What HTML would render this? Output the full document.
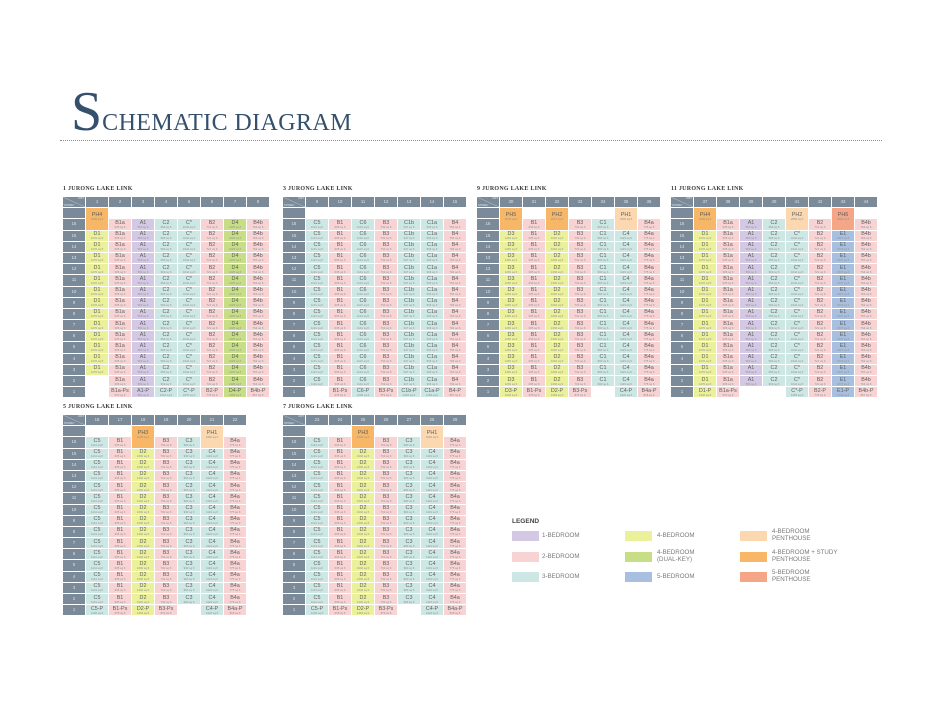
<!DOCTYPE html>
<html><head><meta charset="utf-8">
<style>
body{margin:0;width:943px;height:717px;background:#fff;position:relative;overflow:hidden;font-family:"Liberation Sans",sans-serif}
.ti{position:absolute;left:71px;top:84px;color:#35506c;font-family:"Liberation Serif",serif;white-space:nowrap}
.ti .S{font-size:56px;line-height:56px}
.ti .R{font-size:24px;letter-spacing:.4px}
.dl{position:absolute;left:60px;top:140px;width:822px;border-top:1px dotted #8c8c8c}
.tt{position:absolute;font:bold 6px/7px "Liberation Serif",serif;color:#3a3a3a;letter-spacing:.25px;white-space:nowrap}
.T{position:absolute;display:grid;grid-auto-rows:10.2px;gap:1px;background:#fff}
.c8{grid-template-columns:repeat(9,22px)}
.c7{grid-template-columns:repeat(8,22px)}
.T>b{display:block;font-weight:normal;text-align:center;font-size:5.4px;line-height:6px;color:#5f5f5f;overflow:hidden;padding-top:.5px;box-sizing:border-box;white-space:nowrap}
.T>b i{display:block;font-style:normal;font-size:2.8px;line-height:3px;color:#8f8f8f}
.T>b.h,.T>b.l{background:#7b8a98;color:#dfe5ea;font-size:4.2px;line-height:10px;padding:0}
.T>b.h0{background:linear-gradient(to top right,#7b8a98 48%,#c9d1d8 50%,#7b8a98 52%);position:relative;padding:0}
.h0 span{position:absolute;font-size:2.6px;line-height:3px;color:#e3e8ec}
.p{background:#f7d3d4}.t{background:#cde7e5}.u{background:#d4c9e5}.y{background:#ebf09b}.n{background:#c8de86}.e{background:#a9bfe0}.k{background:#fcd8b0}.o{background:#f7b767}.s{background:#f4a687}
.T>b.x{grid-row:span 2;padding-top:4px}
.lg{position:absolute;font-size:6.2px;color:#7a7a7a;line-height:6.5px;white-space:nowrap}
.sw{position:absolute;width:27px;height:10px}
</style></head><body>
<div class="ti"><span class="S">S</span><span class="R">CHEMATIC DIAGRAM</span></div>
<div class="dl"></div>

<div class="tt" style="left:63px;top:186px">1 JURONG LAKE LINK</div>
<div class="T c8" style="left:63px;top:197px">
<b class="h0"><span style="right:1px;top:0">UNIT</span><span style="left:1px;bottom:0">STOREY</span></b><b class="h">1</b><b class="h">2</b><b class="h">3</b><b class="h">4</b><b class="h">5</b><b class="h">6</b><b class="h">7</b><b class="h">8</b>
<b class="l"></b><b class="o x">PH4<i>2229 sq ft</i></b><b></b><b></b><b></b><b></b><b></b><b></b><b></b>
<b class="l">16</b><b class="p">B1a<i>635 sq ft</i></b><b class="u">A1<i>560 sq ft</i></b><b class="t">C2<i>969 sq ft</i></b><b class="t">C*<i>1044 sq ft</i></b><b class="p">B2<i>721 sq ft</i></b><b class="n">D4<i>1425 sq ft</i></b><b class="p">B4b<i>764 sq ft</i></b>
<b class="l">15</b><b class="y">D1<i>1270 sq ft</i></b><b class="p">B1a<i>635 sq ft</i></b><b class="u">A1<i>560 sq ft</i></b><b class="t">C2<i>969 sq ft</i></b><b class="t">C*<i>1044 sq ft</i></b><b class="p">B2<i>721 sq ft</i></b><b class="n">D4<i>1425 sq ft</i></b><b class="p">B4b<i>764 sq ft</i></b>
<b class="l">14</b><b class="y">D1<i>1270 sq ft</i></b><b class="p">B1a<i>635 sq ft</i></b><b class="u">A1<i>560 sq ft</i></b><b class="t">C2<i>969 sq ft</i></b><b class="t">C*<i>1044 sq ft</i></b><b class="p">B2<i>721 sq ft</i></b><b class="n">D4<i>1425 sq ft</i></b><b class="p">B4b<i>764 sq ft</i></b>
<b class="l">13</b><b class="y">D1<i>1270 sq ft</i></b><b class="p">B1a<i>635 sq ft</i></b><b class="u">A1<i>560 sq ft</i></b><b class="t">C2<i>969 sq ft</i></b><b class="t">C*<i>1044 sq ft</i></b><b class="p">B2<i>721 sq ft</i></b><b class="n">D4<i>1425 sq ft</i></b><b class="p">B4b<i>764 sq ft</i></b>
<b class="l">12</b><b class="y">D1<i>1270 sq ft</i></b><b class="p">B1a<i>635 sq ft</i></b><b class="u">A1<i>560 sq ft</i></b><b class="t">C2<i>969 sq ft</i></b><b class="t">C*<i>1044 sq ft</i></b><b class="p">B2<i>721 sq ft</i></b><b class="n">D4<i>1425 sq ft</i></b><b class="p">B4b<i>764 sq ft</i></b>
<b class="l">11</b><b class="y">D1<i>1270 sq ft</i></b><b class="p">B1a<i>635 sq ft</i></b><b class="u">A1<i>560 sq ft</i></b><b class="t">C2<i>969 sq ft</i></b><b class="t">C*<i>1044 sq ft</i></b><b class="p">B2<i>721 sq ft</i></b><b class="n">D4<i>1425 sq ft</i></b><b class="p">B4b<i>764 sq ft</i></b>
<b class="l">10</b><b class="y">D1<i>1270 sq ft</i></b><b class="p">B1a<i>635 sq ft</i></b><b class="u">A1<i>560 sq ft</i></b><b class="t">C2<i>969 sq ft</i></b><b class="t">C*<i>1044 sq ft</i></b><b class="p">B2<i>721 sq ft</i></b><b class="n">D4<i>1425 sq ft</i></b><b class="p">B4b<i>764 sq ft</i></b>
<b class="l">9</b><b class="y">D1<i>1270 sq ft</i></b><b class="p">B1a<i>635 sq ft</i></b><b class="u">A1<i>560 sq ft</i></b><b class="t">C2<i>969 sq ft</i></b><b class="t">C*<i>1044 sq ft</i></b><b class="p">B2<i>721 sq ft</i></b><b class="n">D4<i>1425 sq ft</i></b><b class="p">B4b<i>764 sq ft</i></b>
<b class="l">8</b><b class="y">D1<i>1270 sq ft</i></b><b class="p">B1a<i>635 sq ft</i></b><b class="u">A1<i>560 sq ft</i></b><b class="t">C2<i>969 sq ft</i></b><b class="t">C*<i>1044 sq ft</i></b><b class="p">B2<i>721 sq ft</i></b><b class="n">D4<i>1425 sq ft</i></b><b class="p">B4b<i>764 sq ft</i></b>
<b class="l">7</b><b class="y">D1<i>1270 sq ft</i></b><b class="p">B1a<i>635 sq ft</i></b><b class="u">A1<i>560 sq ft</i></b><b class="t">C2<i>969 sq ft</i></b><b class="t">C*<i>1044 sq ft</i></b><b class="p">B2<i>721 sq ft</i></b><b class="n">D4<i>1425 sq ft</i></b><b class="p">B4b<i>764 sq ft</i></b>
<b class="l">6</b><b class="y">D1<i>1270 sq ft</i></b><b class="p">B1a<i>635 sq ft</i></b><b class="u">A1<i>560 sq ft</i></b><b class="t">C2<i>969 sq ft</i></b><b class="t">C*<i>1044 sq ft</i></b><b class="p">B2<i>721 sq ft</i></b><b class="n">D4<i>1425 sq ft</i></b><b class="p">B4b<i>764 sq ft</i></b>
<b class="l">5</b><b class="y">D1<i>1270 sq ft</i></b><b class="p">B1a<i>635 sq ft</i></b><b class="u">A1<i>560 sq ft</i></b><b class="t">C2<i>969 sq ft</i></b><b class="t">C*<i>1044 sq ft</i></b><b class="p">B2<i>721 sq ft</i></b><b class="n">D4<i>1425 sq ft</i></b><b class="p">B4b<i>764 sq ft</i></b>
<b class="l">4</b><b class="y">D1<i>1270 sq ft</i></b><b class="p">B1a<i>635 sq ft</i></b><b class="u">A1<i>560 sq ft</i></b><b class="t">C2<i>969 sq ft</i></b><b class="t">C*<i>1044 sq ft</i></b><b class="p">B2<i>721 sq ft</i></b><b class="n">D4<i>1425 sq ft</i></b><b class="p">B4b<i>764 sq ft</i></b>
<b class="l">3</b><b class="y">D1<i>1270 sq ft</i></b><b class="p">B1a<i>635 sq ft</i></b><b class="u">A1<i>560 sq ft</i></b><b class="t">C2<i>969 sq ft</i></b><b class="t">C*<i>1044 sq ft</i></b><b class="p">B2<i>721 sq ft</i></b><b class="n">D4<i>1425 sq ft</i></b><b class="p">B4b<i>764 sq ft</i></b>
<b class="l">2</b><b></b><b class="p">B1a<i>635 sq ft</i></b><b class="u">A1<i>560 sq ft</i></b><b class="t">C2<i>969 sq ft</i></b><b class="t">C*<i>1044 sq ft</i></b><b class="p">B2<i>721 sq ft</i></b><b class="n">D4<i>1425 sq ft</i></b><b class="p">B4b<i>764 sq ft</i></b>
<b class="l">1</b><b></b><b class="p">B1a-Ps<i>670 sq ft</i></b><b class="u">A1-P<i>581 sq ft</i></b><b class="t">C2-P<i>1012 sq ft</i></b><b class="t">C*-P<i>1076 sq ft</i></b><b class="p">B2-P<i>775 sq ft</i></b><b class="n">D4-P<i>1469 sq ft</i></b><b class="p">B4b-P<i>807 sq ft</i></b>
</div>

<div class="tt" style="left:283px;top:186px">3 JURONG LAKE LINK</div>
<div class="T c7" style="left:283px;top:197px">
<b class="h0"><span style="right:1px;top:0">UNIT</span><span style="left:1px;bottom:0">STOREY</span></b><b class="h">9</b><b class="h">10</b><b class="h">11</b><b class="h">12</b><b class="h">13</b><b class="h">14</b><b class="h">15</b>
<b class="l"></b><b></b><b></b><b></b><b></b><b></b><b></b><b></b>
<b class="l">16</b><b class="t">C5<i>1141 sq ft</i></b><b class="p">B1<i>635 sq ft</i></b><b class="t">C6<i>1141 sq ft</i></b><b class="p">B3<i>732 sq ft</i></b><b class="t">C1b<i>947 sq ft</i></b><b class="t">C1a<i>936 sq ft</i></b><b class="p">B4<i>764 sq ft</i></b>
<b class="l">15</b><b class="t">C5<i>1141 sq ft</i></b><b class="p">B1<i>635 sq ft</i></b><b class="t">C6<i>1141 sq ft</i></b><b class="p">B3<i>732 sq ft</i></b><b class="t">C1b<i>947 sq ft</i></b><b class="t">C1a<i>936 sq ft</i></b><b class="p">B4<i>764 sq ft</i></b>
<b class="l">14</b><b class="t">C5<i>1141 sq ft</i></b><b class="p">B1<i>635 sq ft</i></b><b class="t">C6<i>1141 sq ft</i></b><b class="p">B3<i>732 sq ft</i></b><b class="t">C1b<i>947 sq ft</i></b><b class="t">C1a<i>936 sq ft</i></b><b class="p">B4<i>764 sq ft</i></b>
<b class="l">13</b><b class="t">C5<i>1141 sq ft</i></b><b class="p">B1<i>635 sq ft</i></b><b class="t">C6<i>1141 sq ft</i></b><b class="p">B3<i>732 sq ft</i></b><b class="t">C1b<i>947 sq ft</i></b><b class="t">C1a<i>936 sq ft</i></b><b class="p">B4<i>764 sq ft</i></b>
<b class="l">12</b><b class="t">C5<i>1141 sq ft</i></b><b class="p">B1<i>635 sq ft</i></b><b class="t">C6<i>1141 sq ft</i></b><b class="p">B3<i>732 sq ft</i></b><b class="t">C1b<i>947 sq ft</i></b><b class="t">C1a<i>936 sq ft</i></b><b class="p">B4<i>764 sq ft</i></b>
<b class="l">11</b><b class="t">C5<i>1141 sq ft</i></b><b class="p">B1<i>635 sq ft</i></b><b class="t">C6<i>1141 sq ft</i></b><b class="p">B3<i>732 sq ft</i></b><b class="t">C1b<i>947 sq ft</i></b><b class="t">C1a<i>936 sq ft</i></b><b class="p">B4<i>764 sq ft</i></b>
<b class="l">10</b><b class="t">C5<i>1141 sq ft</i></b><b class="p">B1<i>635 sq ft</i></b><b class="t">C6<i>1141 sq ft</i></b><b class="p">B3<i>732 sq ft</i></b><b class="t">C1b<i>947 sq ft</i></b><b class="t">C1a<i>936 sq ft</i></b><b class="p">B4<i>764 sq ft</i></b>
<b class="l">9</b><b class="t">C5<i>1141 sq ft</i></b><b class="p">B1<i>635 sq ft</i></b><b class="t">C6<i>1141 sq ft</i></b><b class="p">B3<i>732 sq ft</i></b><b class="t">C1b<i>947 sq ft</i></b><b class="t">C1a<i>936 sq ft</i></b><b class="p">B4<i>764 sq ft</i></b>
<b class="l">8</b><b class="t">C5<i>1141 sq ft</i></b><b class="p">B1<i>635 sq ft</i></b><b class="t">C6<i>1141 sq ft</i></b><b class="p">B3<i>732 sq ft</i></b><b class="t">C1b<i>947 sq ft</i></b><b class="t">C1a<i>936 sq ft</i></b><b class="p">B4<i>764 sq ft</i></b>
<b class="l">7</b><b class="t">C5<i>1141 sq ft</i></b><b class="p">B1<i>635 sq ft</i></b><b class="t">C6<i>1141 sq ft</i></b><b class="p">B3<i>732 sq ft</i></b><b class="t">C1b<i>947 sq ft</i></b><b class="t">C1a<i>936 sq ft</i></b><b class="p">B4<i>764 sq ft</i></b>
<b class="l">6</b><b class="t">C5<i>1141 sq ft</i></b><b class="p">B1<i>635 sq ft</i></b><b class="t">C6<i>1141 sq ft</i></b><b class="p">B3<i>732 sq ft</i></b><b class="t">C1b<i>947 sq ft</i></b><b class="t">C1a<i>936 sq ft</i></b><b class="p">B4<i>764 sq ft</i></b>
<b class="l">5</b><b class="t">C5<i>1141 sq ft</i></b><b class="p">B1<i>635 sq ft</i></b><b class="t">C6<i>1141 sq ft</i></b><b class="p">B3<i>732 sq ft</i></b><b class="t">C1b<i>947 sq ft</i></b><b class="t">C1a<i>936 sq ft</i></b><b class="p">B4<i>764 sq ft</i></b>
<b class="l">4</b><b class="t">C5<i>1141 sq ft</i></b><b class="p">B1<i>635 sq ft</i></b><b class="t">C6<i>1141 sq ft</i></b><b class="p">B3<i>732 sq ft</i></b><b class="t">C1b<i>947 sq ft</i></b><b class="t">C1a<i>936 sq ft</i></b><b class="p">B4<i>764 sq ft</i></b>
<b class="l">3</b><b class="t">C5<i>1141 sq ft</i></b><b class="p">B1<i>635 sq ft</i></b><b class="t">C6<i>1141 sq ft</i></b><b class="p">B3<i>732 sq ft</i></b><b class="t">C1b<i>947 sq ft</i></b><b class="t">C1a<i>936 sq ft</i></b><b class="p">B4<i>764 sq ft</i></b>
<b class="l">2</b><b class="t">C5<i>1141 sq ft</i></b><b class="p">B1<i>635 sq ft</i></b><b class="t">C6<i>1141 sq ft</i></b><b class="p">B3<i>732 sq ft</i></b><b class="t">C1b<i>947 sq ft</i></b><b class="t">C1a<i>936 sq ft</i></b><b class="p">B4<i>764 sq ft</i></b>
<b class="l">1</b><b></b><b class="p">B1-Ps<i>678 sq ft</i></b><b class="t">C6-P<i>1206 sq ft</i></b><b class="p">B3-Ps<i>872 sq ft</i></b><b class="t">C1b-P<i>1216 sq ft</i></b><b class="t">C1a-P<i>1184 sq ft</i></b><b class="p">B4-P<i>807 sq ft</i></b>
</div>

<div class="tt" style="left:477px;top:186px">9 JURONG LAKE LINK</div>
<div class="T c7" style="left:477px;top:197px">
<b class="h0"><span style="right:1px;top:0">UNIT</span><span style="left:1px;bottom:0">STOREY</span></b><b class="h">30</b><b class="h">31</b><b class="h">32</b><b class="h">33</b><b class="h">34</b><b class="h">35</b><b class="h">36</b>
<b class="l"></b><b class="o x">PH5<i>2239 sq ft</i></b><b></b><b class="o x">PH2<i>2217 sq ft</i></b><b></b><b></b><b class="k x">PH1<i>1991 sq ft</i></b><b></b>
<b class="l">16</b><b class="p">B1<i>635 sq ft</i></b><b class="p">B3<i>732 sq ft</i></b><b class="t">C1<i>990 sq ft</i></b><b class="p">B4a<i>775 sq ft</i></b>
<b class="l">15</b><b class="y">D3<i>1281 sq ft</i></b><b class="p">B1<i>635 sq ft</i></b><b class="y">D2<i>1302 sq ft</i></b><b class="p">B3<i>732 sq ft</i></b><b class="t">C1<i>990 sq ft</i></b><b class="t">C4<i>1119 sq ft</i></b><b class="p">B4a<i>775 sq ft</i></b>
<b class="l">14</b><b class="y">D3<i>1281 sq ft</i></b><b class="p">B1<i>635 sq ft</i></b><b class="y">D2<i>1302 sq ft</i></b><b class="p">B3<i>732 sq ft</i></b><b class="t">C1<i>990 sq ft</i></b><b class="t">C4<i>1119 sq ft</i></b><b class="p">B4a<i>775 sq ft</i></b>
<b class="l">13</b><b class="y">D3<i>1281 sq ft</i></b><b class="p">B1<i>635 sq ft</i></b><b class="y">D2<i>1302 sq ft</i></b><b class="p">B3<i>732 sq ft</i></b><b class="t">C1<i>990 sq ft</i></b><b class="t">C4<i>1119 sq ft</i></b><b class="p">B4a<i>775 sq ft</i></b>
<b class="l">12</b><b class="y">D3<i>1281 sq ft</i></b><b class="p">B1<i>635 sq ft</i></b><b class="y">D2<i>1302 sq ft</i></b><b class="p">B3<i>732 sq ft</i></b><b class="t">C1<i>990 sq ft</i></b><b class="t">C4<i>1119 sq ft</i></b><b class="p">B4a<i>775 sq ft</i></b>
<b class="l">11</b><b class="y">D3<i>1281 sq ft</i></b><b class="p">B1<i>635 sq ft</i></b><b class="y">D2<i>1302 sq ft</i></b><b class="p">B3<i>732 sq ft</i></b><b class="t">C1<i>990 sq ft</i></b><b class="t">C4<i>1119 sq ft</i></b><b class="p">B4a<i>775 sq ft</i></b>
<b class="l">10</b><b class="y">D3<i>1281 sq ft</i></b><b class="p">B1<i>635 sq ft</i></b><b class="y">D2<i>1302 sq ft</i></b><b class="p">B3<i>732 sq ft</i></b><b class="t">C1<i>990 sq ft</i></b><b class="t">C4<i>1119 sq ft</i></b><b class="p">B4a<i>775 sq ft</i></b>
<b class="l">9</b><b class="y">D3<i>1281 sq ft</i></b><b class="p">B1<i>635 sq ft</i></b><b class="y">D2<i>1302 sq ft</i></b><b class="p">B3<i>732 sq ft</i></b><b class="t">C1<i>990 sq ft</i></b><b class="t">C4<i>1119 sq ft</i></b><b class="p">B4a<i>775 sq ft</i></b>
<b class="l">8</b><b class="y">D3<i>1281 sq ft</i></b><b class="p">B1<i>635 sq ft</i></b><b class="y">D2<i>1302 sq ft</i></b><b class="p">B3<i>732 sq ft</i></b><b class="t">C1<i>990 sq ft</i></b><b class="t">C4<i>1119 sq ft</i></b><b class="p">B4a<i>775 sq ft</i></b>
<b class="l">7</b><b class="y">D3<i>1281 sq ft</i></b><b class="p">B1<i>635 sq ft</i></b><b class="y">D2<i>1302 sq ft</i></b><b class="p">B3<i>732 sq ft</i></b><b class="t">C1<i>990 sq ft</i></b><b class="t">C4<i>1119 sq ft</i></b><b class="p">B4a<i>775 sq ft</i></b>
<b class="l">6</b><b class="y">D3<i>1281 sq ft</i></b><b class="p">B1<i>635 sq ft</i></b><b class="y">D2<i>1302 sq ft</i></b><b class="p">B3<i>732 sq ft</i></b><b class="t">C1<i>990 sq ft</i></b><b class="t">C4<i>1119 sq ft</i></b><b class="p">B4a<i>775 sq ft</i></b>
<b class="l">5</b><b class="y">D3<i>1281 sq ft</i></b><b class="p">B1<i>635 sq ft</i></b><b class="y">D2<i>1302 sq ft</i></b><b class="p">B3<i>732 sq ft</i></b><b class="t">C1<i>990 sq ft</i></b><b class="t">C4<i>1119 sq ft</i></b><b class="p">B4a<i>775 sq ft</i></b>
<b class="l">4</b><b class="y">D3<i>1281 sq ft</i></b><b class="p">B1<i>635 sq ft</i></b><b class="y">D2<i>1302 sq ft</i></b><b class="p">B3<i>732 sq ft</i></b><b class="t">C1<i>990 sq ft</i></b><b class="t">C4<i>1119 sq ft</i></b><b class="p">B4a<i>775 sq ft</i></b>
<b class="l">3</b><b class="y">D3<i>1281 sq ft</i></b><b class="p">B1<i>635 sq ft</i></b><b class="y">D2<i>1302 sq ft</i></b><b class="p">B3<i>732 sq ft</i></b><b class="t">C1<i>990 sq ft</i></b><b class="t">C4<i>1119 sq ft</i></b><b class="p">B4a<i>775 sq ft</i></b>
<b class="l">2</b><b class="y">D3<i>1281 sq ft</i></b><b class="p">B1<i>635 sq ft</i></b><b class="y">D2<i>1302 sq ft</i></b><b class="p">B3<i>732 sq ft</i></b><b class="t">C1<i>990 sq ft</i></b><b class="t">C4<i>1119 sq ft</i></b><b class="p">B4a<i>775 sq ft</i></b>
<b class="l">1</b><b class="y">D3-P<i>1442 sq ft</i></b><b class="p">B1-Ps<i>678 sq ft</i></b><b class="y">D2-P<i>1464 sq ft</i></b><b class="p">B3-Ps<i>872 sq ft</i></b><b></b><b class="t">C4-P<i>1324 sq ft</i></b><b class="p">B4a-P<i>818 sq ft</i></b>
</div>

<div class="tt" style="left:671px;top:186px">11 JURONG LAKE LINK</div>
<div class="T c8" style="left:671px;top:197px">
<b class="h0"><span style="right:1px;top:0">UNIT</span><span style="left:1px;bottom:0">STOREY</span></b><b class="h">37</b><b class="h">38</b><b class="h">39</b><b class="h">40</b><b class="h">41</b><b class="h">42</b><b class="h">43</b><b class="h">44</b>
<b class="l"></b><b class="o x">PH4<i>2229 sq ft</i></b><b></b><b></b><b></b><b class="k x">PH2<i>2056 sq ft</i></b><b></b><b class="s x">PH6<i>2669 sq ft</i></b><b></b>
<b class="l">16</b><b class="p">B1a<i>635 sq ft</i></b><b class="u">A1<i>560 sq ft</i></b><b class="t">C2<i>969 sq ft</i></b><b class="p">B2<i>721 sq ft</i></b><b class="p">B4b<i>764 sq ft</i></b>
<b class="l">15</b><b class="y">D1<i>1270 sq ft</i></b><b class="p">B1a<i>635 sq ft</i></b><b class="u">A1<i>560 sq ft</i></b><b class="t">C2<i>969 sq ft</i></b><b class="t">C*<i>1044 sq ft</i></b><b class="p">B2<i>721 sq ft</i></b><b class="e">E1<i>1572 sq ft</i></b><b class="p">B4b<i>764 sq ft</i></b>
<b class="l">14</b><b class="y">D1<i>1270 sq ft</i></b><b class="p">B1a<i>635 sq ft</i></b><b class="u">A1<i>560 sq ft</i></b><b class="t">C2<i>969 sq ft</i></b><b class="t">C*<i>1044 sq ft</i></b><b class="p">B2<i>721 sq ft</i></b><b class="e">E1<i>1572 sq ft</i></b><b class="p">B4b<i>764 sq ft</i></b>
<b class="l">13</b><b class="y">D1<i>1270 sq ft</i></b><b class="p">B1a<i>635 sq ft</i></b><b class="u">A1<i>560 sq ft</i></b><b class="t">C2<i>969 sq ft</i></b><b class="t">C*<i>1044 sq ft</i></b><b class="p">B2<i>721 sq ft</i></b><b class="e">E1<i>1572 sq ft</i></b><b class="p">B4b<i>764 sq ft</i></b>
<b class="l">12</b><b class="y">D1<i>1270 sq ft</i></b><b class="p">B1a<i>635 sq ft</i></b><b class="u">A1<i>560 sq ft</i></b><b class="t">C2<i>969 sq ft</i></b><b class="t">C*<i>1044 sq ft</i></b><b class="p">B2<i>721 sq ft</i></b><b class="e">E1<i>1572 sq ft</i></b><b class="p">B4b<i>764 sq ft</i></b>
<b class="l">11</b><b class="y">D1<i>1270 sq ft</i></b><b class="p">B1a<i>635 sq ft</i></b><b class="u">A1<i>560 sq ft</i></b><b class="t">C2<i>969 sq ft</i></b><b class="t">C*<i>1044 sq ft</i></b><b class="p">B2<i>721 sq ft</i></b><b class="e">E1<i>1572 sq ft</i></b><b class="p">B4b<i>764 sq ft</i></b>
<b class="l">10</b><b class="y">D1<i>1270 sq ft</i></b><b class="p">B1a<i>635 sq ft</i></b><b class="u">A1<i>560 sq ft</i></b><b class="t">C2<i>969 sq ft</i></b><b class="t">C*<i>1044 sq ft</i></b><b class="p">B2<i>721 sq ft</i></b><b class="e">E1<i>1572 sq ft</i></b><b class="p">B4b<i>764 sq ft</i></b>
<b class="l">9</b><b class="y">D1<i>1270 sq ft</i></b><b class="p">B1a<i>635 sq ft</i></b><b class="u">A1<i>560 sq ft</i></b><b class="t">C2<i>969 sq ft</i></b><b class="t">C*<i>1044 sq ft</i></b><b class="p">B2<i>721 sq ft</i></b><b class="e">E1<i>1572 sq ft</i></b><b class="p">B4b<i>764 sq ft</i></b>
<b class="l">8</b><b class="y">D1<i>1270 sq ft</i></b><b class="p">B1a<i>635 sq ft</i></b><b class="u">A1<i>560 sq ft</i></b><b class="t">C2<i>969 sq ft</i></b><b class="t">C*<i>1044 sq ft</i></b><b class="p">B2<i>721 sq ft</i></b><b class="e">E1<i>1572 sq ft</i></b><b class="p">B4b<i>764 sq ft</i></b>
<b class="l">7</b><b class="y">D1<i>1270 sq ft</i></b><b class="p">B1a<i>635 sq ft</i></b><b class="u">A1<i>560 sq ft</i></b><b class="t">C2<i>969 sq ft</i></b><b class="t">C*<i>1044 sq ft</i></b><b class="p">B2<i>721 sq ft</i></b><b class="e">E1<i>1572 sq ft</i></b><b class="p">B4b<i>764 sq ft</i></b>
<b class="l">6</b><b class="y">D1<i>1270 sq ft</i></b><b class="p">B1a<i>635 sq ft</i></b><b class="u">A1<i>560 sq ft</i></b><b class="t">C2<i>969 sq ft</i></b><b class="t">C*<i>1044 sq ft</i></b><b class="p">B2<i>721 sq ft</i></b><b class="e">E1<i>1572 sq ft</i></b><b class="p">B4b<i>764 sq ft</i></b>
<b class="l">5</b><b class="y">D1<i>1270 sq ft</i></b><b class="p">B1a<i>635 sq ft</i></b><b class="u">A1<i>560 sq ft</i></b><b class="t">C2<i>969 sq ft</i></b><b class="t">C*<i>1044 sq ft</i></b><b class="p">B2<i>721 sq ft</i></b><b class="e">E1<i>1572 sq ft</i></b><b class="p">B4b<i>764 sq ft</i></b>
<b class="l">4</b><b class="y">D1<i>1270 sq ft</i></b><b class="p">B1a<i>635 sq ft</i></b><b class="u">A1<i>560 sq ft</i></b><b class="t">C2<i>969 sq ft</i></b><b class="t">C*<i>1044 sq ft</i></b><b class="p">B2<i>721 sq ft</i></b><b class="e">E1<i>1572 sq ft</i></b><b class="p">B4b<i>764 sq ft</i></b>
<b class="l">3</b><b class="y">D1<i>1270 sq ft</i></b><b class="p">B1a<i>635 sq ft</i></b><b class="u">A1<i>560 sq ft</i></b><b class="t">C2<i>969 sq ft</i></b><b class="t">C*<i>1044 sq ft</i></b><b class="p">B2<i>721 sq ft</i></b><b class="e">E1<i>1572 sq ft</i></b><b class="p">B4b<i>764 sq ft</i></b>
<b class="l">2</b><b class="y">D1<i>1270 sq ft</i></b><b class="p">B1a<i>635 sq ft</i></b><b class="u">A1<i>560 sq ft</i></b><b class="t">C2<i>969 sq ft</i></b><b class="t">C*<i>1044 sq ft</i></b><b class="p">B2<i>721 sq ft</i></b><b class="e">E1<i>1572 sq ft</i></b><b class="p">B4b<i>764 sq ft</i></b>
<b class="l">1</b><b class="y">D1-P<i>1432 sq ft</i></b><b class="p">B1a-Ps<i>670 sq ft</i></b><b></b><b></b><b class="t">C*-P<i>1259 sq ft</i></b><b class="p">B2-P<i>775 sq ft</i></b><b class="e">E1-P<i>1744 sq ft</i></b><b class="p">B4b-P<i>807 sq ft</i></b>
</div>

<div class="tt" style="left:63px;top:404px">5 JURONG LAKE LINK</div>
<div class="T c7" style="left:63px;top:415px">
<b class="h0"><span style="right:1px;top:0">UNIT</span><span style="left:1px;bottom:0">STOREY</span></b><b class="h">16</b><b class="h">17</b><b class="h">18</b><b class="h">19</b><b class="h">20</b><b class="h">21</b><b class="h">22</b>
<b class="l"></b><b></b><b></b><b class="o x">PH3<i>2229 sq ft</i></b><b></b><b></b><b class="k x">PH1<i>1991 sq ft</i></b><b></b>
<b class="l">16</b><b class="t">C5<i>1141 sq ft</i></b><b class="p">B1<i>635 sq ft</i></b><b class="p">B3<i>732 sq ft</i></b><b class="t">C3<i>990 sq ft</i></b><b class="p">B4a<i>775 sq ft</i></b>
<b class="l">15</b><b class="t">C5<i>1141 sq ft</i></b><b class="p">B1<i>635 sq ft</i></b><b class="y">D2<i>1302 sq ft</i></b><b class="p">B3<i>732 sq ft</i></b><b class="t">C3<i>990 sq ft</i></b><b class="t">C4<i>1119 sq ft</i></b><b class="p">B4a<i>775 sq ft</i></b>
<b class="l">14</b><b class="t">C5<i>1141 sq ft</i></b><b class="p">B1<i>635 sq ft</i></b><b class="y">D2<i>1302 sq ft</i></b><b class="p">B3<i>732 sq ft</i></b><b class="t">C3<i>990 sq ft</i></b><b class="t">C4<i>1119 sq ft</i></b><b class="p">B4a<i>775 sq ft</i></b>
<b class="l">13</b><b class="t">C5<i>1141 sq ft</i></b><b class="p">B1<i>635 sq ft</i></b><b class="y">D2<i>1302 sq ft</i></b><b class="p">B3<i>732 sq ft</i></b><b class="t">C3<i>990 sq ft</i></b><b class="t">C4<i>1119 sq ft</i></b><b class="p">B4a<i>775 sq ft</i></b>
<b class="l">12</b><b class="t">C5<i>1141 sq ft</i></b><b class="p">B1<i>635 sq ft</i></b><b class="y">D2<i>1302 sq ft</i></b><b class="p">B3<i>732 sq ft</i></b><b class="t">C3<i>990 sq ft</i></b><b class="t">C4<i>1119 sq ft</i></b><b class="p">B4a<i>775 sq ft</i></b>
<b class="l">11</b><b class="t">C5<i>1141 sq ft</i></b><b class="p">B1<i>635 sq ft</i></b><b class="y">D2<i>1302 sq ft</i></b><b class="p">B3<i>732 sq ft</i></b><b class="t">C3<i>990 sq ft</i></b><b class="t">C4<i>1119 sq ft</i></b><b class="p">B4a<i>775 sq ft</i></b>
<b class="l">10</b><b class="t">C5<i>1141 sq ft</i></b><b class="p">B1<i>635 sq ft</i></b><b class="y">D2<i>1302 sq ft</i></b><b class="p">B3<i>732 sq ft</i></b><b class="t">C3<i>990 sq ft</i></b><b class="t">C4<i>1119 sq ft</i></b><b class="p">B4a<i>775 sq ft</i></b>
<b class="l">9</b><b class="t">C5<i>1141 sq ft</i></b><b class="p">B1<i>635 sq ft</i></b><b class="y">D2<i>1302 sq ft</i></b><b class="p">B3<i>732 sq ft</i></b><b class="t">C3<i>990 sq ft</i></b><b class="t">C4<i>1119 sq ft</i></b><b class="p">B4a<i>775 sq ft</i></b>
<b class="l">8</b><b class="t">C5<i>1141 sq ft</i></b><b class="p">B1<i>635 sq ft</i></b><b class="y">D2<i>1302 sq ft</i></b><b class="p">B3<i>732 sq ft</i></b><b class="t">C3<i>990 sq ft</i></b><b class="t">C4<i>1119 sq ft</i></b><b class="p">B4a<i>775 sq ft</i></b>
<b class="l">7</b><b class="t">C5<i>1141 sq ft</i></b><b class="p">B1<i>635 sq ft</i></b><b class="y">D2<i>1302 sq ft</i></b><b class="p">B3<i>732 sq ft</i></b><b class="t">C3<i>990 sq ft</i></b><b class="t">C4<i>1119 sq ft</i></b><b class="p">B4a<i>775 sq ft</i></b>
<b class="l">6</b><b class="t">C5<i>1141 sq ft</i></b><b class="p">B1<i>635 sq ft</i></b><b class="y">D2<i>1302 sq ft</i></b><b class="p">B3<i>732 sq ft</i></b><b class="t">C3<i>990 sq ft</i></b><b class="t">C4<i>1119 sq ft</i></b><b class="p">B4a<i>775 sq ft</i></b>
<b class="l">5</b><b class="t">C5<i>1141 sq ft</i></b><b class="p">B1<i>635 sq ft</i></b><b class="y">D2<i>1302 sq ft</i></b><b class="p">B3<i>732 sq ft</i></b><b class="t">C3<i>990 sq ft</i></b><b class="t">C4<i>1119 sq ft</i></b><b class="p">B4a<i>775 sq ft</i></b>
<b class="l">4</b><b class="t">C5<i>1141 sq ft</i></b><b class="p">B1<i>635 sq ft</i></b><b class="y">D2<i>1302 sq ft</i></b><b class="p">B3<i>732 sq ft</i></b><b class="t">C3<i>990 sq ft</i></b><b class="t">C4<i>1119 sq ft</i></b><b class="p">B4a<i>775 sq ft</i></b>
<b class="l">3</b><b class="t">C5<i>1141 sq ft</i></b><b class="p">B1<i>635 sq ft</i></b><b class="y">D2<i>1302 sq ft</i></b><b class="p">B3<i>732 sq ft</i></b><b class="t">C3<i>990 sq ft</i></b><b class="t">C4<i>1119 sq ft</i></b><b class="p">B4a<i>775 sq ft</i></b>
<b class="l">2</b><b class="t">C5<i>1141 sq ft</i></b><b class="p">B1<i>635 sq ft</i></b><b class="y">D2<i>1302 sq ft</i></b><b class="p">B3<i>732 sq ft</i></b><b class="t">C3<i>990 sq ft</i></b><b class="t">C4<i>1119 sq ft</i></b><b class="p">B4a<i>775 sq ft</i></b>
<b class="l">1</b><b class="t">C5-P<i>1292 sq ft</i></b><b class="p">B1-Ps<i>678 sq ft</i></b><b class="y">D2-P<i>1464 sq ft</i></b><b class="p">B3-Ps<i>872 sq ft</i></b><b></b><b class="t">C4-P<i>1324 sq ft</i></b><b class="p">B4a-P<i>818 sq ft</i></b>
</div>

<div class="tt" style="left:283px;top:404px">7 JURONG LAKE LINK</div>
<div class="T c7" style="left:283px;top:415px">
<b class="h0"><span style="right:1px;top:0">UNIT</span><span style="left:1px;bottom:0">STOREY</span></b><b class="h">23</b><b class="h">24</b><b class="h">25</b><b class="h">26</b><b class="h">27</b><b class="h">28</b><b class="h">29</b>
<b class="l"></b><b></b><b></b><b class="o x">PH3<i>2229 sq ft</i></b><b></b><b></b><b class="k x">PH1<i>1991 sq ft</i></b><b></b>
<b class="l">16</b><b class="t">C5<i>1141 sq ft</i></b><b class="p">B1<i>635 sq ft</i></b><b class="p">B3<i>732 sq ft</i></b><b class="t">C3<i>990 sq ft</i></b><b class="p">B4a<i>775 sq ft</i></b>
<b class="l">15</b><b class="t">C5<i>1141 sq ft</i></b><b class="p">B1<i>635 sq ft</i></b><b class="y">D2<i>1302 sq ft</i></b><b class="p">B3<i>732 sq ft</i></b><b class="t">C3<i>990 sq ft</i></b><b class="t">C4<i>1119 sq ft</i></b><b class="p">B4a<i>775 sq ft</i></b>
<b class="l">14</b><b class="t">C5<i>1141 sq ft</i></b><b class="p">B1<i>635 sq ft</i></b><b class="y">D2<i>1302 sq ft</i></b><b class="p">B3<i>732 sq ft</i></b><b class="t">C3<i>990 sq ft</i></b><b class="t">C4<i>1119 sq ft</i></b><b class="p">B4a<i>775 sq ft</i></b>
<b class="l">13</b><b class="t">C5<i>1141 sq ft</i></b><b class="p">B1<i>635 sq ft</i></b><b class="y">D2<i>1302 sq ft</i></b><b class="p">B3<i>732 sq ft</i></b><b class="t">C3<i>990 sq ft</i></b><b class="t">C4<i>1119 sq ft</i></b><b class="p">B4a<i>775 sq ft</i></b>
<b class="l">12</b><b class="t">C5<i>1141 sq ft</i></b><b class="p">B1<i>635 sq ft</i></b><b class="y">D2<i>1302 sq ft</i></b><b class="p">B3<i>732 sq ft</i></b><b class="t">C3<i>990 sq ft</i></b><b class="t">C4<i>1119 sq ft</i></b><b class="p">B4a<i>775 sq ft</i></b>
<b class="l">11</b><b class="t">C5<i>1141 sq ft</i></b><b class="p">B1<i>635 sq ft</i></b><b class="y">D2<i>1302 sq ft</i></b><b class="p">B3<i>732 sq ft</i></b><b class="t">C3<i>990 sq ft</i></b><b class="t">C4<i>1119 sq ft</i></b><b class="p">B4a<i>775 sq ft</i></b>
<b class="l">10</b><b class="t">C5<i>1141 sq ft</i></b><b class="p">B1<i>635 sq ft</i></b><b class="y">D2<i>1302 sq ft</i></b><b class="p">B3<i>732 sq ft</i></b><b class="t">C3<i>990 sq ft</i></b><b class="t">C4<i>1119 sq ft</i></b><b class="p">B4a<i>775 sq ft</i></b>
<b class="l">9</b><b class="t">C5<i>1141 sq ft</i></b><b class="p">B1<i>635 sq ft</i></b><b class="y">D2<i>1302 sq ft</i></b><b class="p">B3<i>732 sq ft</i></b><b class="t">C3<i>990 sq ft</i></b><b class="t">C4<i>1119 sq ft</i></b><b class="p">B4a<i>775 sq ft</i></b>
<b class="l">8</b><b class="t">C5<i>1141 sq ft</i></b><b class="p">B1<i>635 sq ft</i></b><b class="y">D2<i>1302 sq ft</i></b><b class="p">B3<i>732 sq ft</i></b><b class="t">C3<i>990 sq ft</i></b><b class="t">C4<i>1119 sq ft</i></b><b class="p">B4a<i>775 sq ft</i></b>
<b class="l">7</b><b class="t">C5<i>1141 sq ft</i></b><b class="p">B1<i>635 sq ft</i></b><b class="y">D2<i>1302 sq ft</i></b><b class="p">B3<i>732 sq ft</i></b><b class="t">C3<i>990 sq ft</i></b><b class="t">C4<i>1119 sq ft</i></b><b class="p">B4a<i>775 sq ft</i></b>
<b class="l">6</b><b class="t">C5<i>1141 sq ft</i></b><b class="p">B1<i>635 sq ft</i></b><b class="y">D2<i>1302 sq ft</i></b><b class="p">B3<i>732 sq ft</i></b><b class="t">C3<i>990 sq ft</i></b><b class="t">C4<i>1119 sq ft</i></b><b class="p">B4a<i>775 sq ft</i></b>
<b class="l">5</b><b class="t">C5<i>1141 sq ft</i></b><b class="p">B1<i>635 sq ft</i></b><b class="y">D2<i>1302 sq ft</i></b><b class="p">B3<i>732 sq ft</i></b><b class="t">C3<i>990 sq ft</i></b><b class="t">C4<i>1119 sq ft</i></b><b class="p">B4a<i>775 sq ft</i></b>
<b class="l">4</b><b class="t">C5<i>1141 sq ft</i></b><b class="p">B1<i>635 sq ft</i></b><b class="y">D2<i>1302 sq ft</i></b><b class="p">B3<i>732 sq ft</i></b><b class="t">C3<i>990 sq ft</i></b><b class="t">C4<i>1119 sq ft</i></b><b class="p">B4a<i>775 sq ft</i></b>
<b class="l">3</b><b class="t">C5<i>1141 sq ft</i></b><b class="p">B1<i>635 sq ft</i></b><b class="y">D2<i>1302 sq ft</i></b><b class="p">B3<i>732 sq ft</i></b><b class="t">C3<i>990 sq ft</i></b><b class="t">C4<i>1119 sq ft</i></b><b class="p">B4a<i>775 sq ft</i></b>
<b class="l">2</b><b class="t">C5<i>1141 sq ft</i></b><b class="p">B1<i>635 sq ft</i></b><b class="y">D2<i>1302 sq ft</i></b><b class="p">B3<i>732 sq ft</i></b><b class="t">C3<i>990 sq ft</i></b><b class="t">C4<i>1119 sq ft</i></b><b class="p">B4a<i>775 sq ft</i></b>
<b class="l">1</b><b class="t">C5-P<i>1292 sq ft</i></b><b class="p">B1-Ps<i>678 sq ft</i></b><b class="y">D2-P<i>1464 sq ft</i></b><b class="p">B3-Ps<i>872 sq ft</i></b><b></b><b class="t">C4-P<i>1324 sq ft</i></b><b class="p">B4a-P<i>818 sq ft</i></b>
</div>

<div class="lg" style="left:512px;top:519px;font-weight:bold;color:#444;font-size:6.5px">LEGEND</div>
<div class="sw u" style="left:512px;top:531px"></div><div class="lg" style="left:542px;top:533px">1-BEDROOM</div>
<div class="sw p" style="left:512px;top:552px"></div><div class="lg" style="left:542px;top:554px">2-BEDROOM</div>
<div class="sw t" style="left:512px;top:572px"></div><div class="lg" style="left:542px;top:574px">3-BEDROOM</div>
<div class="sw y" style="left:625px;top:531px"></div><div class="lg" style="left:657px;top:533px">4-BEDROOM</div>
<div class="sw n" style="left:625px;top:552px"></div><div class="lg" style="left:657px;top:550px">4-BEDROOM<br>(DUAL-KEY)</div>
<div class="sw e" style="left:625px;top:572px"></div><div class="lg" style="left:657px;top:574px">5-BEDROOM</div>
<div class="sw k" style="left:740px;top:531px"></div><div class="lg" style="left:772px;top:529px">4-BEDROOM<br>PENTHOUSE</div>
<div class="sw o" style="left:740px;top:552px"></div><div class="lg" style="left:772px;top:550px">4-BEDROOM + STUDY<br>PENTHOUSE</div>
<div class="sw s" style="left:740px;top:572px"></div><div class="lg" style="left:772px;top:570px">5-BEDROOM<br>PENTHOUSE</div>
</body></html>
